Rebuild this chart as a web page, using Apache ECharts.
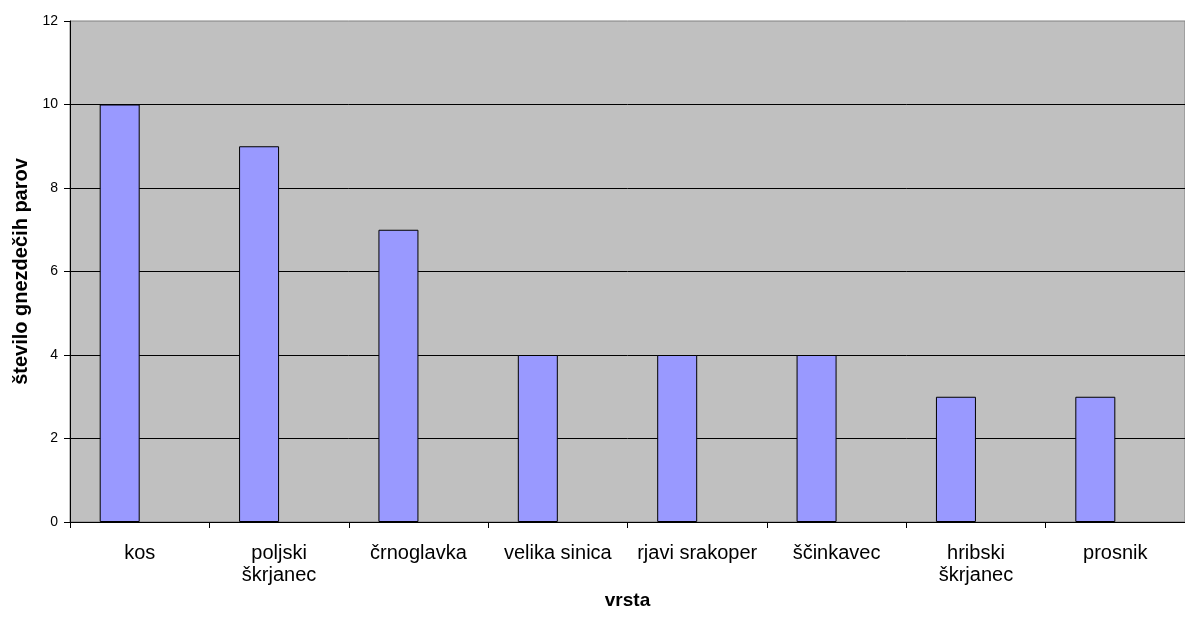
<!DOCTYPE html>
<html><head><meta charset="utf-8">
<script src="https://cdn.jsdelivr.net/npm/echarts@6/dist/echarts.min.js"></script>
<style>html,body{margin:0;padding:0;background:#fff}#c{width:1185px;height:622px}</style>
</head><body><div id="c"></div>
<script>
const categories = ['kos', 'poljski\nškrjanec', 'črnoglavka', 'velika sinica', 'rjavi srakoper', 'ščinkavec', 'hribski\nškrjanec', 'prosnik'];
const values = [10, 9, 7, 4, 4, 4, 3, 3];
const yTicks = [0, 2, 4, 6, 8, 10, 12];

const chart = echarts.init(document.getElementById('c'));
chart.setOption({
  animation: false,
  textStyle: { fontFamily: 'Liberation Sans, Arial, sans-serif' },
  grid: { left: 70, right: -5, top: 21, bottom: 100, show: true, backgroundColor: '#C0C0C0', borderColor: '#808080', borderWidth: 1 },
  xAxis: {
    type: 'category', data: categories,
    name: 'vrsta', nameLocation: 'middle', nameGap: 63,
    nameTextStyle: { fontWeight: 'bold', fontSize: 19, color: '#000' },
    axisLine: { lineStyle: { color: '#000', width: 1 } },
    axisTick: { show: true, length: 6, interval: 0, lineStyle: { color: '#000' } },
    axisLabel: { interval: 0, fontSize: 20, color: '#000', margin: 20, lineHeight: 22 }
  },
  yAxis: {
    type: 'value', min: 0, max: 12, interval: 2,
    name: 'število gnezdečih parov', nameLocation: 'middle', nameGap: 36, nameRotate: 90,
    nameTextStyle: { fontWeight: 'bold', fontSize: 20, color: '#000' },
    axisLine: { show: true, lineStyle: { color: '#000', width: 1 } },
    axisTick: { show: true, length: 6, lineStyle: { color: '#000' } },
    axisLabel: { fontSize: 14, color: '#000', margin: 12, formatter: v => yTicks.includes(v) ? String(v) : '' },
    splitLine: { show: true, showMaxLine: false, lineStyle: { color: '#000', width: 1 } }
  },
  series: [
    { type: 'bar', data: values, barWidth: 40, barGap: '0%',
      itemStyle: { color: '#9999FF', borderColor: '#000', borderWidth: 1 } },
    { type: 'bar', data: values.map(() => '-'), barWidth: 40 }
  ]
});
</script></body></html>
